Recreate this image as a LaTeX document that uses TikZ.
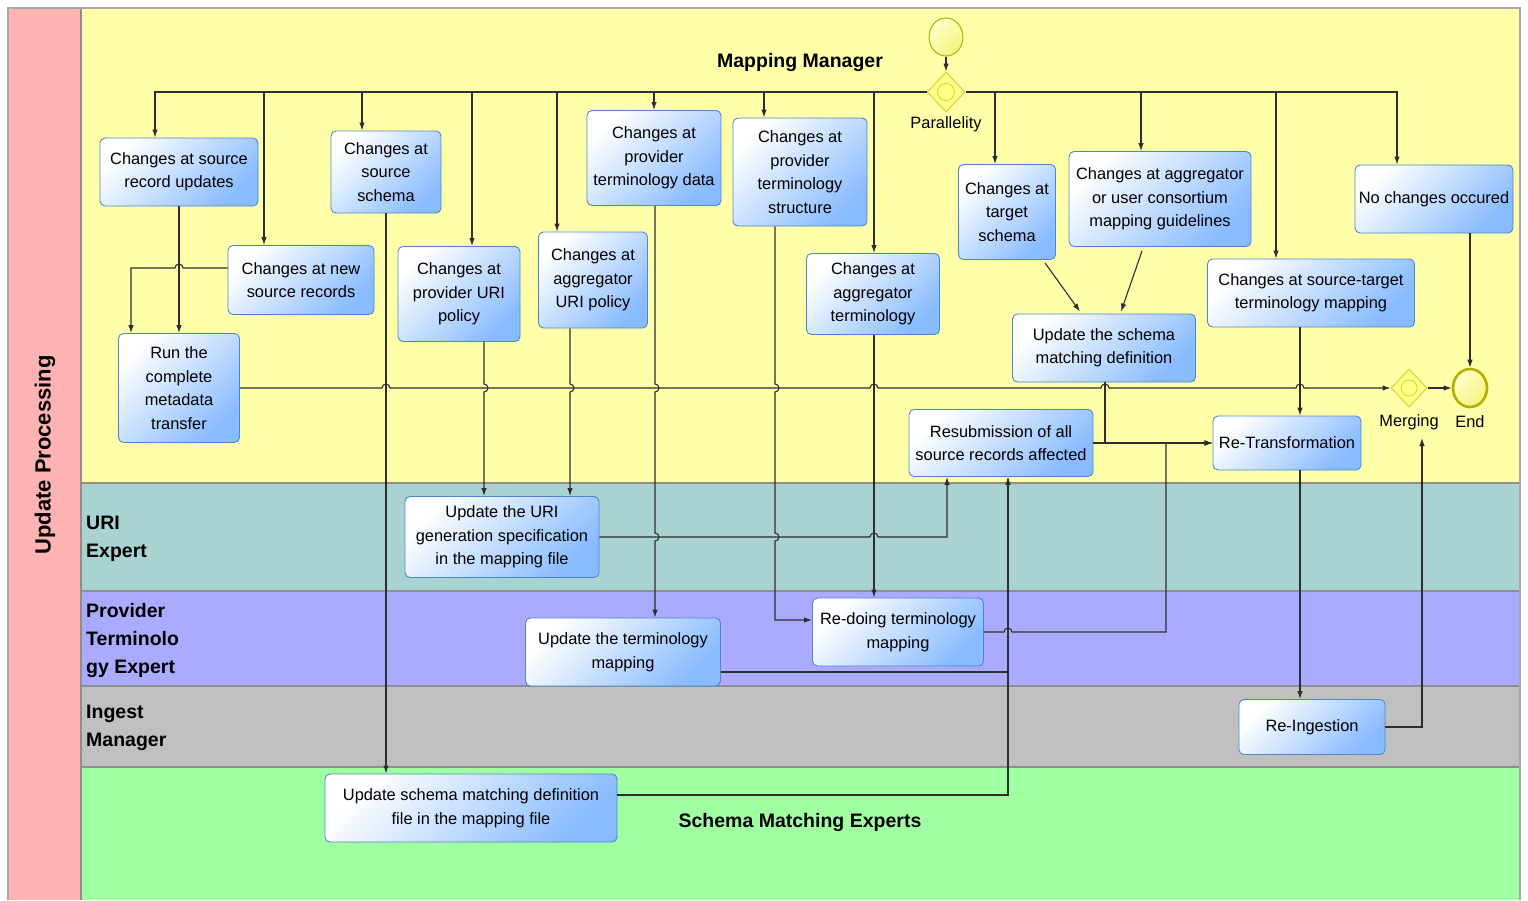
\documentclass[tikz,border=0pt]{standalone}
\usepackage{fontspec}
\setmainfont{Liberation Sans}
\usetikzlibrary{arrows.meta,calc,shapes.geometric}

\definecolor{poolred}{HTML}{FFB3B3}
\definecolor{laneyellow}{HTML}{FFFFAA}
\definecolor{laneteal}{HTML}{A9D3D1}
\definecolor{lanelav}{HTML}{AAAAFF}
\definecolor{lanegray}{HTML}{C0C0C0}
\definecolor{lanegreen}{HTML}{A0FFA0}
\definecolor{laneline}{HTML}{8E8E8E}
\definecolor{poolline}{HTML}{A8A8A8}
\definecolor{taskblue}{HTML}{88BBFF}
\definecolor{taskedge}{HTML}{4D86D0}
\definecolor{evlight}{HTML}{FFFFCC}
\definecolor{evfill}{HTML}{F4F47C}
\definecolor{evedge}{HTML}{B0B000}
\definecolor{gwfill}{HTML}{FFFF88}
\definecolor{gwedge}{HTML}{D2D23C}
\definecolor{flowline}{HTML}{2E2E2E}

\newcommand\tasksize{\fontsize{16.4}{23.5}\selectfont}
\newcommand\lanesize{\fontsize{19.5}{28}\selectfont}
\newcommand\poolsize{\fontsize{22}{26}\selectfont}

\tikzset{
  task/.style={draw=taskedge, line width=0.9pt, rounded corners=5pt,
    top color=white, bottom color=taskblue, shading angle=45,
    align=center, inner sep=2pt, font=\tasksize, text=black},
  event/.style={ellipse, draw=evedge, top color=evlight, bottom color=evfill,
    shading angle=45, minimum width=34pt, minimum height=38pt, inner sep=0pt},
  gateway/.style={diamond, draw=gwedge, line width=1pt, fill=gwfill,
    minimum width=38pt, minimum height=40pt, inner sep=0pt},
  gwmarker/.style={circle, draw=gwedge, line width=0.8pt, minimum size=17pt, inner sep=0pt},
  flow/.style={draw=flowline, line width=1.1pt, -{Latex[length=8pt,width=5.5pt]}},
  lanetitle/.style={font=\lanesize\bfseries, align=left, anchor=west, inner sep=0pt},
  plain/.style={font=\tasksize, inner sep=2pt},
  hopup/.style={insert path={arc[start angle=180,end angle=360,radius=4]}},
  hopleft/.style={insert path={arc[start angle=0,end angle=-180,radius=4]}},
  hopdown/.style={insert path={arc[start angle=-90,end angle=90,radius=4]}},
}

\begin{document}
\begin{tikzpicture}[x=1pt,y=-1pt]
\useasboundingbox (0,0) rectangle (1528,900);

% pool and lanes
\fill[white] (0,0) rectangle (1528,900);
\fill[laneyellow] (81,8) rectangle (1520,483);
\fill[laneteal] (81,483) rectangle (1520,591);
\fill[lanelav] (81,591) rectangle (1520,686);
\fill[lanegray] (81,686) rectangle (1520,767);
\fill[lanegreen] (81,767) rectangle (1520,900);
\fill[poolred] (8,8) rectangle (81,900);
\draw[laneline, line width=1.6pt] (81,483) -- (1520,483);
\draw[laneline, line width=1.6pt] (81,591) -- (1520,591);
\draw[laneline, line width=1.6pt] (81,686) -- (1520,686);
\draw[laneline, line width=1.6pt] (81,767) -- (1520,767);
\draw[laneline, line width=1.6pt] (81,8) -- (81,900);
\draw[poolline, line width=1.5pt] (8,900) -- (8,8) -- (1520,8) -- (1520,900);

% lane titles
\node[font=\poolsize\bfseries, rotate=90] (ltpool) at (45,455) {Update Processing};
\node[font=\lanesize\bfseries] (ltmap) at (800,62) {Mapping Manager};
\node[lanetitle] (lturi) at (86,539) {URI\\Expert};
\node[lanetitle] (ltprov) at (86,640) {Provider\\Terminolo\\gy Expert};
\node[lanetitle] (ltingest) at (86,728) {Ingest\\Manager};
\node[font=\lanesize\bfseries] (ltschema) at (800,822) {Schema Matching Experts};

% events and gateways
\node[event, line width=1pt] (start) at (946,37) {};
\node[gateway] (gw) at (946,92) {};
\node[gwmarker] (gwmark) at (gw) {};
\node[plain] (gwlbl) at (946,124) {Parallelity};
\node[gateway, minimum width=36pt, minimum height=38pt] (merge) at (1409,388) {};
\node[gwmarker, minimum size=16pt] (mergemark) at (merge) {};
\node[plain] (merglbl) at (1409,422) {Merging};
\node[event, line width=2.6pt] (endev) at (1470,388) {};
\node[plain] (endlbl) at (1470,422) {End};
\coordinate (mergein) at (1422,438);

% tasks
\node[task, minimum width=158pt, minimum height=68pt] (srcupd) at (179,172) {Changes at source\\record updates};
\node[task, minimum width=110pt, minimum height=82pt] (srcschema) at (386,172) {Changes at\\source\\schema};
\node[task, minimum width=146pt, minimum height=69pt] (newsrc) at (301,280) {Changes at new\\source records};
\node[task, minimum width=121pt, minimum height=109pt] (runall) at (179,388) {Run the\\complete\\metadata\\transfer};
\node[task, minimum width=122pt, minimum height=95pt] (provuri) at (459,294) {Changes at\\provider URI\\policy};
\node[task, minimum width=109pt, minimum height=96pt] (aggruri) at (593,280) {Changes at\\aggregator\\URI policy};
\node[task, minimum width=134pt, minimum height=95pt] (provtermdata) at (654,158) {Changes at\\provider\\terminology data};
\node[task, minimum width=134pt, minimum height=108pt] (provtermstruct) at (800,172) {Changes at\\provider\\terminology\\structure};
\node[task, minimum width=133pt, minimum height=81pt] (aggrterm) at (873,294) {Changes at\\aggregator\\terminology};
\node[task, minimum width=97pt, minimum height=95pt] (tgtschema) at (1007,212) {Changes at\\target\\schema};
\node[task, minimum width=182pt, minimum height=95pt] (aggrguide) at (1160,199) {Changes at aggregator\\or user consortium\\mapping guidelines};
\node[task, minimum width=158pt, minimum height=68pt] (nochange) at (1434,199) {No changes occured};
\node[task, minimum width=207pt, minimum height=68pt] (stmap) at (1311,293) {Changes at source-target\\terminology mapping};
\node[task, minimum width=183pt, minimum height=68pt] (updschema) at (1104,348) {Update the schema\\matching definition};
\node[task, minimum width=184pt, minimum height=67pt] (resub) at (1001,443) {Resubmission of all\\source records affected};
\node[task, minimum width=148pt, minimum height=54pt] (retrans) at (1287,443) {Re-Transformation};
\node[task, minimum width=194pt, minimum height=81pt] (upduri) at (502,537) {Update the URI\\generation specification\\in the mapping file};
\node[task, minimum width=195pt, minimum height=68pt] (updterm) at (623,652) {Update the terminology\\mapping};
\node[task, minimum width=171pt, minimum height=68pt] (redoterm) at (898,632) {Re-doing terminology\\mapping};
\node[task, minimum width=146pt, minimum height=55pt] (reingest) at (1312,727) {Re-Ingestion};
\node[task, minimum width=292pt, minimum height=68pt] (updschemafile) at (471,808) {Update schema matching definition\\file in the mapping file};

% split bus from the parallel gateway
\draw[flow] (start.south) -- (gw.north);
\coordinate (d1) at ($(srcupd.north)+(-24,0)$);
\coordinate (d2) at ($(newsrc.north)+(-37,0)$);
\coordinate (d3) at ($(srcschema.north)+(-24,0)$);
\coordinate (d4) at ($(provuri.north)+(13,0)$);
\coordinate (d5) at ($(aggruri.north)+(-36,0)$);
\coordinate (d6) at (provtermdata.north);
\coordinate (d7) at ($(provtermstruct.north)+(-36,0)$);
\coordinate (d8) at ($(aggrterm.north)+(1,0)$);
\coordinate (d9) at ($(tgtschema.north)+(-12,0)$);
\coordinate (d10) at ($(aggrguide.north)+(-19,0)$);
\coordinate (d11) at ($(stmap.north)+(-35,0)$);
\coordinate (d12) at ($(nochange.north)+(-37,0)$);
\draw[flow] (gw.west) -| (d1);
\foreach \d in {d2,d3,d4,d5,d6,d7,d8}
  \draw[flow] (\d |- gw.west) -- (\d);
\draw[flow] (gw.east) -| (d12);
\foreach \d in {d9,d10,d11}
  \draw[flow] (\d |- gw.east) -- (\d);

% source record branch
\draw[flow] (srcupd.south) -- (runall.north);
\draw[flow] ($(newsrc.west)+(0,-12)$) -- (183,268) [hopleft] -| ($(runall.north)+(-48,0)$);
\draw[flow] (runall.east) -- (382,388) [hopup] -- (870,388) [hopup] -- (1101,388) [hopup]
  -- (1296,388) [hopup] -- (merge.west);

% schema branch
\draw[flow] (srcschema.south) -- ($(updschemafile.north)+(-85,0)$);

% URI branches
\draw[flow] ($(provuri.south)+(25,0)$) -- (484,384) [hopdown] -- ($(upduri.north)+(-18,0)$);
\draw[flow] ($(aggruri.south)+(-23,0)$) -- (570,384) [hopdown] -- ($(upduri.north)+(68,0)$);
\draw[flow] (upduri.east) -- (870,537) [hopup] -| ($(resub.south)+(-54,0)$);

% terminology branches
\draw[flow] ($(provtermdata.south)+(1,0)$) -- (655,384) [hopdown] -- (655,533) [hopdown]
  -- ($(updterm.north)+(32,0)$);
\draw[flow] ($(provtermstruct.south)+(-25,0)$) -- (775,384) [hopdown] -- (775,533) [hopdown]
  |- ($(redoterm.west)+(0,-12)$);
\draw[flow] ($(aggrterm.south)+(1,0)$) -- ($(redoterm.north)+(-24,0)$);
\draw[flow] ($(updterm.east)+(0,20)$) -| ($(resub.south)+(7,0)$);
\draw[flow] ($(updschemafile.east)+(0,-13)$) -| ($(resub.south)+(7,0)$);
\draw[flow] (redoterm.east) -- (1004,632) [hopup] -- (1166,632) |- (retrans.west);

% target schema and guidelines
\draw[flow] ($(tgtschema.south)+(38,3)$) -- ($(updschema.north)+(-24,-2)$);
\draw[flow] ($(aggrguide.south)+(-18,4)$) -- ($(updschema.north)+(17,-2)$);
\draw[flow] ($(updschema.south)+(1,0)$) |- (retrans.west);
\draw[flow] (resub.east) -- (retrans.west);

% re-transformation, re-ingestion, merge and end
\draw[flow] ($(stmap.south)+(-11,0)$) -- ($(retrans.north)+(13,0)$);
\draw[flow] ($(retrans.south)+(13,0)$) -- ($(reingest.north)+(-12,0)$);
\draw[flow] (reingest.east) -| (mergein);
\draw[flow] ($(nochange.south)+(36,0)$) -- (endev.north);
\draw[flow] (merge.east) -- (endev.west);
\end{tikzpicture}
\end{document}
